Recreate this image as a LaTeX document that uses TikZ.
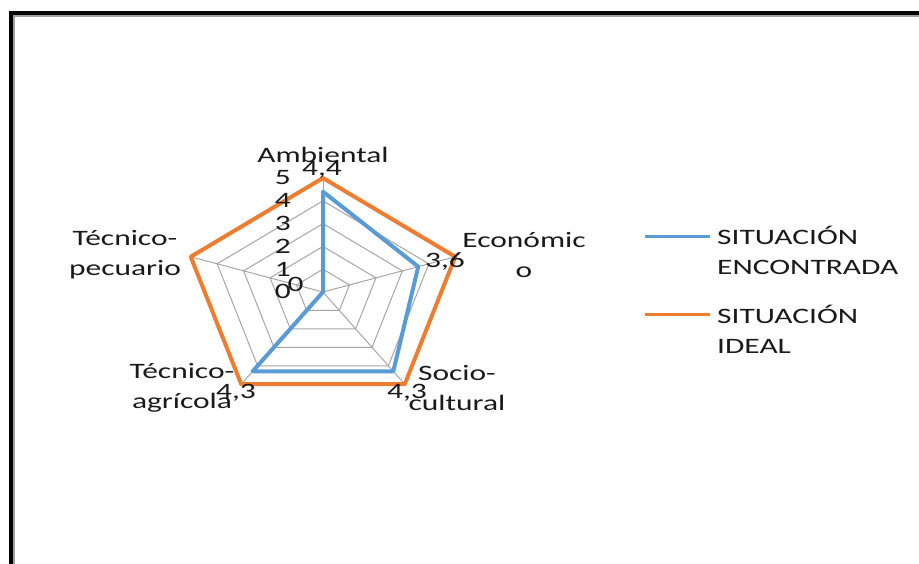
\documentclass[tikz,border=0pt]{standalone}
\usepackage{fontspec}
\setmainfont{Carlito}[FakeStretch=1.43]
\definecolor{serA}{HTML}{5B9BD5}
\definecolor{serB}{HTML}{ED7D31}
\definecolor{gridc}{HTML}{A6A6A6}
\definecolor{txt}{HTML}{1A1A1A}
\definecolor{frameg}{HTML}{A0A0A0}
\begin{document}
\begin{tikzpicture}[x=1pt,y=-1pt,
  lbl/.style={font=\fontsize{22}{30}\selectfont, text=txt, inner sep=0pt, align=center},
  gridline/.style={draw=gridc, line width=1pt},
  series/.style={line width=4pt, line join=round},
  legline/.style={line width=3pt}]
\useasboundingbox (0,0) rectangle (919,564);
\fill[white] (0,0) rectangle (919,564);
% frame
\draw[line width=4pt] (11,564) -- (11,13) -- (919,13);
\draw[frameg, line width=1.5pt] (14,564) -- (14,16) -- (919,16);
% radar
\begin{scope}[shift={(323,292)}, x=1.22pt, y=1pt]
  \coordinate (O) at (0,0);
  \foreach \k in {1,...,5}
    \draw[gridline] (90:22.8*\k) -- (18:22.8*\k) -- (-54:22.8*\k) -- (-126:22.8*\k) -- (162:22.8*\k) -- cycle;
  \foreach \a in {90,18,-54,-126,162}
    \draw[gridline] (O) -- (\a:114);
  % ideal
  \coordinate (i1) at (90:114);
  \coordinate (i2) at (18:114);
  \coordinate (i3) at (-54:114);
  \coordinate (i4) at (-126:114);
  \coordinate (i5) at (162:114);
  % encontrada
  \coordinate (e1) at (90:100.32);
  \coordinate (e2) at (18:82.08);
  \coordinate (e3) at (-54:98.04);
  \coordinate (e4) at (-126:98.04);
  \coordinate (e5) at (O);
  \draw[series, serA] (e1) -- (e2) -- (e3) -- (e4) -- (e5) -- cycle;
  \draw[series, serB] (i1) -- (i2) -- (i3) -- (i4) -- (i5) -- cycle;
\end{scope}
% tick labels
\foreach \k in {0,...,5}
  \node[lbl, anchor=base east] (t\k) at (291, 299-22.8*\k) {\k};
% data labels
\node[lbl, anchor=base] (d1) at (322,176) {4,4};
\node[lbl, anchor=base] (d2) at (445,268) {3,6};
\node[lbl, anchor=base] (d3) at (407,398) {4,3};
\node[lbl, anchor=base] (d4) at (236,398) {4,3};
\node[lbl, anchor=base] (d5) at (295.5,292) {0};
% axis labels (base anchor = baseline of last line)
\node[lbl, anchor=base] (a1) at (323,163) {Ambiental};
\node[lbl, anchor=base] (a2) at (524,278) {Económic\\o};
\node[lbl, anchor=base] (a3) at (457,410) {Socio-\\cultural};
\node[lbl, anchor=base] (a4) at (182,408) {Técnico-\\agrícola};
\node[lbl, anchor=base] (a5) at (125,276) {Técnico-\\pecuario};
% legend
\coordinate (la1) at (645,237);
\coordinate (la2) at (710,237);
\coordinate (lb1) at (645,315);
\coordinate (lb2) at (710,315);
\draw[legline, serA] (la1) -- (la2);
\draw[legline, serB] (lb1) -- (lb2);
\node[lbl, align=left, anchor=base west] (ta) at (717,275) {SITUACIÓN\\ENCONTRADA};
\node[lbl, align=left, anchor=base west] (tb) at (717,353) {SITUACIÓN\\IDEAL};
\end{tikzpicture}
\end{document}
